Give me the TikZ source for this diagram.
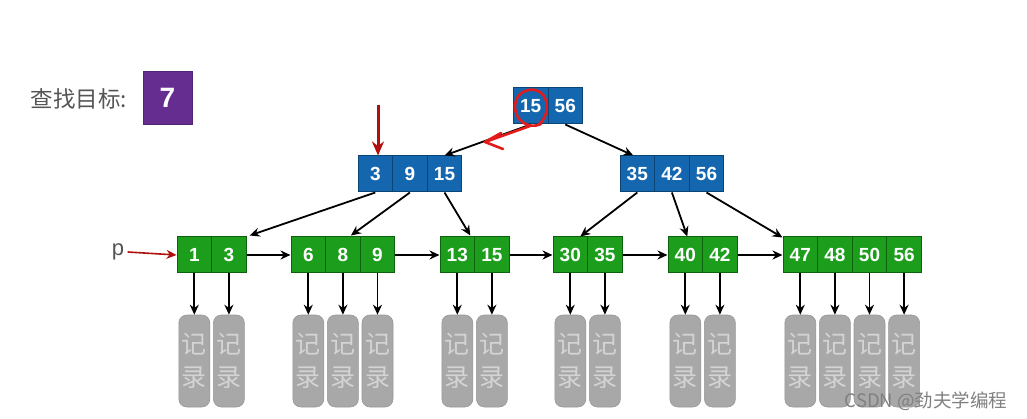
\documentclass[tikz,border=0pt]{standalone}
\usepackage{fontspec}
\setmainfont{Liberation Sans}
\newfontfamily\cjk{Noto Sans CJK SC}
\usetikzlibrary{arrows.meta,calc}
\definecolor{bfill}{HTML}{1466AE}
\definecolor{bdraw}{HTML}{0B4477}
\definecolor{gfill}{HTML}{1C9E1C}
\definecolor{gdraw}{HTML}{0E620E}
\definecolor{pfill}{HTML}{662D91}
\definecolor{recfill}{HTML}{A8A8A8}
\definecolor{rectext}{HTML}{D4D4D4}
\definecolor{darkred}{HTML}{B00F0F}
\definecolor{handred}{HTML}{E21B1B}
\definecolor{labgray}{HTML}{555555}
\tikzset{
  cell/.style={minimum width=34.6pt, minimum height=36pt, inner sep=0pt, line width=1pt,
    text=white, font=\fontsize{19}{19}\selectfont\bfseries},
  bcell/.style={cell, fill=bfill, draw=bdraw},
  gcell/.style={cell, fill=gfill, draw=gdraw},
  rec/.style={minimum width=31pt, minimum height=92pt, inner sep=0pt, rounded corners=8pt,
    fill=recfill, draw=recfill!90!black, line width=0.6pt, text=rectext, align=center,
    font=\cjk\fontsize{25}{33}\selectfont},
  arr/.style={-{Stealth[length=10pt,width=9pt]}, line width=1.8pt, black},
}
\begin{document}
\begin{tikzpicture}[x=1pt,y=-1pt]
\useasboundingbox (0,0) rectangle (1027,419);
% label
\node[font=\cjk\fontsize{22.5}{22.5}\selectfont, text=labgray, anchor=west] (lab) at (27,99) {查找目标:};
\node[minimum width=49pt, minimum height=53pt, fill=pfill, draw=pfill!80!black, text=white,
  font=\fontsize{28}{28}\selectfont\bfseries] (target) at (167.5,97.5) {7};
% root
\node[bcell] (r1) at (530.7,106) {15};
\node[bcell] (r2) at (565.3,106) {56};
% level 2
\node[bcell] (a1) at (375.3,174) {3};
\node[bcell] (a2) at (409.9,174) {9};
\node[bcell] (a3) at (444.5,174) {15};
\node[bcell] (b1) at (637.3,174) {35};
\node[bcell] (b2) at (671.9,174) {42};
\node[bcell] (b3) at (706.5,174) {56};
% leaves
\foreach \n/\x/\v in {l1a/194.3/1, l1b/228.9/3,
  l2a/308.3/6, l2b/342.9/8, l2c/377.5/9,
  l3a/457.3/13, l3b/491.9/15,
  l4a/570.3/30, l4b/604.9/35,
  l5a/685.3/40, l5b/719.9/42,
  l6a/800.3/47, l6b/834.9/48, l6c/869.5/50, l6d/904.1/56}{
  \node[gcell] (\n) at (\x,255) {\v};
  \node[rec] (rec-\n) at (\x,361) {记\\录};
  \draw[arr] (\n.south) -- (rec-\n.north);
}
% tree connectors
\draw[arr] (r1.south) -- (a3.north);
\draw[arr] (r2.south) -- ($(b1.north)+(-4,0)$);
\draw[arr] (a1.south) -- ($(l1b.north east)+(3,-1)$);
\draw[arr] (a2.south) -- ($(l2b.north)+(8,-1)$);
\draw[arr] (a3.south) -- ($(l3a.north)+(13,-1)$);
\draw[arr] (b1.south) -- ($(l4a.north)+(10,0)$);
\draw[arr] (b2.south) -- ($(l5a.north)+(2,0)$);
\draw[arr] (b3.south) -- ($(l6a.north west)+(0,1)$);
% leaf chain
\draw[arr] (l1b.east) -- (l2a.west);
\draw[arr] (l2c.east) -- (l3a.west);
\draw[arr] (l3b.east) -- (l4a.west);
\draw[arr] (l4b.east) -- (l5a.west);
\draw[arr] (l5b.east) -- (l6a.west);
% pointer p
\node[font=\fontsize{22}{22}\selectfont, text=labgray] (p) at (118,252) {p};
\draw[-{Stealth[length=10pt,width=9pt]}, line width=1.6pt, darkred] (p.east) -- (l1a.west);
% red search arrow
\coordinate (redtop) at (378,105);
\draw[-{Stealth[length=14pt,width=12pt]}, line width=3pt, darkred] (redtop) -- (a1.north -| redtop);
% hand-drawn circle and arrow
\draw[handred, line width=2.6pt, line cap=round]
  (541,124) .. controls (528,130) and (514,120) .. (515,105)
  .. controls (516,92) and (530,86) .. (540,92)
  .. controls (550,99) and (549,117) .. (538,125);
\coordinate (hstart) at (530,126);
\coordinate (htip) at (485,142);
\draw[handred, line width=2.6pt, line cap=round, line join=round] (hstart) -- (htip);
\draw[handred, line width=2.6pt, line cap=round, line join=round]
  ($(htip)+(16,-9)$) -- (htip) -- ($(htip)+(18,7)$);
% watermark
\node[font=\cjk\fontsize{18.5}{18.5}\selectfont, text=black!50, anchor=east] (wm) at (1011,401) {CSDN @劲夫学编程};
\end{tikzpicture}
\end{document}
